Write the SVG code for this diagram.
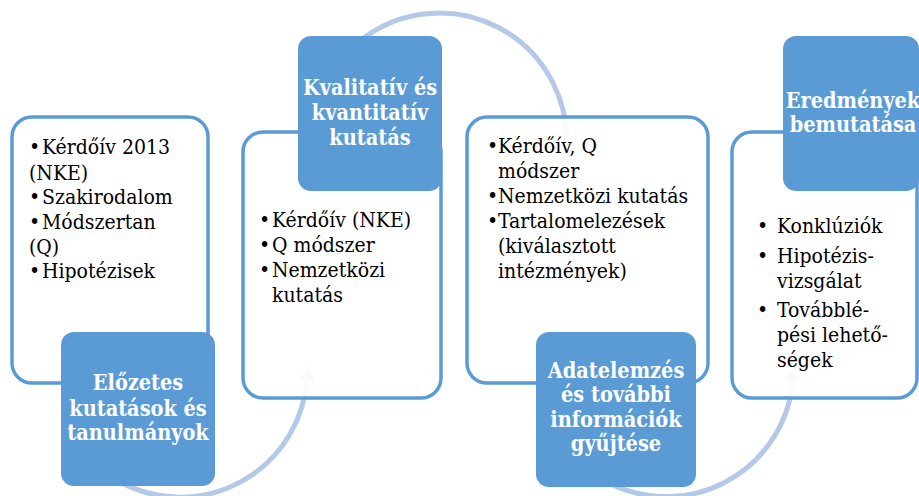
<svg xmlns="http://www.w3.org/2000/svg" width="919" height="496" viewBox="0 0 919 496">
<style>
.box{fill:#ffffff;fill-opacity:0.9;stroke:#5b9bd5;stroke-width:3.5}
.hdr{fill:#5b9bd5}
.t{font-family:'DejaVu Serif Condensed','DejaVu Serif',serif;font-stretch:condensed;font-size:21px;fill:#000}
.h{font-family:'DejaVu Serif Condensed','DejaVu Serif',serif;font-stretch:condensed;font-size:21.5px;font-weight:bold;fill:#fff;text-anchor:middle}
.arc{fill:none;stroke:#b4c9e8;stroke-width:5;marker-end:url(#ah)}
</style>
<defs>
<marker id="ah" viewBox="0 0 10 10" refX="2" refY="5" markerWidth="3.2" markerHeight="3.2" orient="auto" markerUnits="strokeWidth">
<path d="M0,0 L10,5 L0,10 z" fill="#b4c9e8"/>
</marker>
</defs>
<g id="connectors">
<path class="arc" d="M120,482 A127,127 0 0 0 307,378"/>
<path class="arc" d="M350,50 A127,127 0 0 1 565,160"/>
<path class="arc" d="M600,478 A127,127 0 0 0 793,378"/>
</g>
<g id="n1">
<rect class="box" x="12" y="117" width="196" height="266" rx="20"/>
<text class="t"><tspan x="29" y="154">•</tspan><tspan x="42" y="154">Kérdőív 2013</tspan><tspan x="29" y="180">(NKE)</tspan><tspan x="29" y="204">•</tspan><tspan x="42" y="204">Szakirodalom</tspan><tspan x="29" y="229">•</tspan><tspan x="42" y="229">Módszertan</tspan><tspan x="29" y="254">(Q)</tspan><tspan x="29" y="278">•</tspan><tspan x="42" y="278">Hipotézisek</tspan></text>
</g>
<g id="n1h">
<rect class="hdr" x="61" y="332" width="154" height="154" rx="13"/>
<text class="h"><tspan x="138" y="390">Előzetes</tspan><tspan x="138" y="416">kutatások és</tspan><tspan x="138" y="440">tanulmányok</tspan></text>
</g>
<g id="n2">
<rect class="box" x="243" y="132" width="198" height="266" rx="20"/>
<text class="t"><tspan x="259" y="227">•</tspan><tspan x="272" y="227">Kérdőív (NKE)</tspan><tspan x="259" y="252">•</tspan><tspan x="272" y="252">Q módszer</tspan><tspan x="259" y="277">•</tspan><tspan x="272" y="277">Nemzetközi</tspan><tspan x="272" y="302">kutatás</tspan></text>
</g>
<g id="n2h">
<rect class="hdr" x="298" y="36" width="144" height="155" rx="13"/>
<text class="h"><tspan x="370" y="95">Kvalitatív és</tspan><tspan x="370" y="120">kvantitatív</tspan><tspan x="370" y="145">kutatás</tspan></text>
</g>
<g id="n3">
<rect class="box" x="467" y="117" width="241" height="266" rx="20"/>
<text class="t"><tspan x="487" y="153">•</tspan><tspan x="498" y="153">Kérdőív, Q</tspan><tspan x="498" y="178">módszer</tspan><tspan x="487" y="203">•</tspan><tspan x="498" y="203">Nemzetközi kutatás</tspan><tspan x="487" y="228">•</tspan><tspan x="498" y="228">Tartalomelezések</tspan><tspan x="498" y="253">(kiválasztott</tspan><tspan x="498" y="278">intézmények)</tspan></text>
</g>
<g id="n3h">
<rect class="hdr" x="536" y="332" width="160" height="155" rx="13"/>
<text class="h"><tspan x="616" y="378">Adatelemzés</tspan><tspan x="616" y="402">és további</tspan><tspan x="616" y="427">információk</tspan><tspan x="616" y="451">gyűjtése</tspan></text>
</g>
<g id="n4">
<rect class="box" x="732" y="132" width="185" height="266" rx="20"/>
<text class="t"><tspan x="757" y="233">•</tspan><tspan x="777" y="233">Konklúziók</tspan><tspan x="757" y="263">•</tspan><tspan x="777" y="263">Hipotézis-</tspan><tspan x="777" y="288">vizsgálat</tspan><tspan x="757" y="317">•</tspan><tspan x="777" y="317">Továbblé-</tspan><tspan x="777" y="342">pési lehető-</tspan><tspan x="777" y="367">ségek</tspan></text>
</g>
<g id="n4h">
<rect class="hdr" x="783" y="36" width="136" height="155" rx="13"/>
<text class="h"><tspan x="853" y="108">Eredmények</tspan><tspan x="853" y="132">bemutatása</tspan></text>
</g>
</svg>
